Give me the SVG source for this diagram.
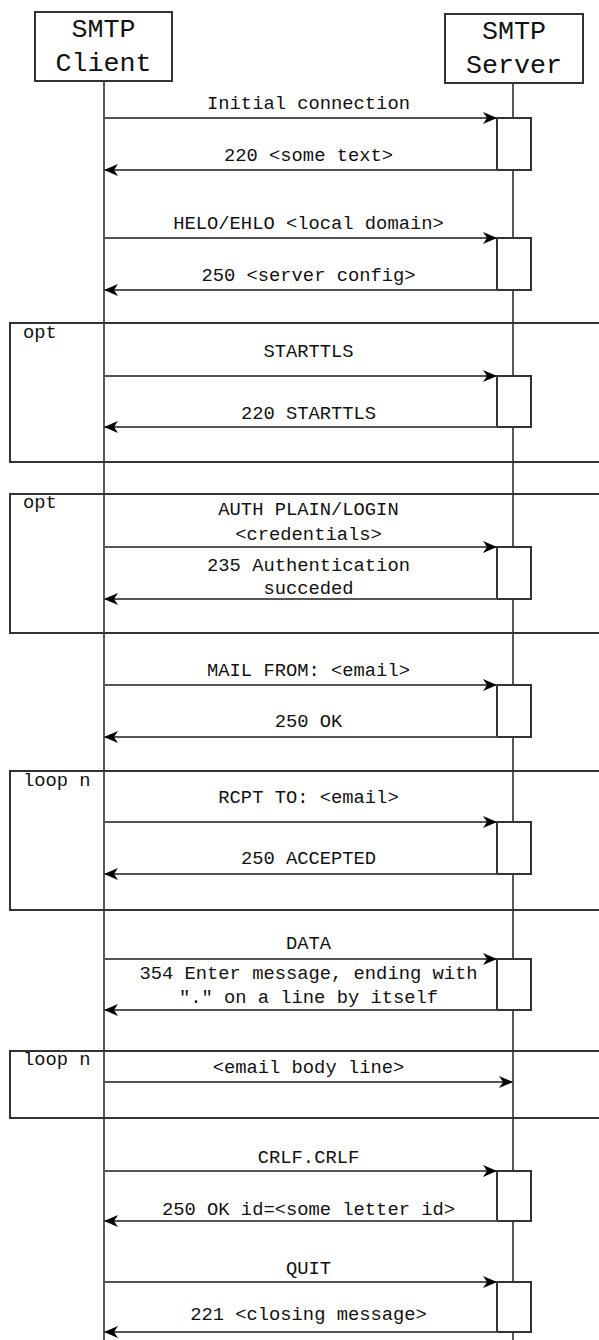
<svg xmlns="http://www.w3.org/2000/svg" width="599" height="1340" viewBox="0 0 599 1340">
<style>
.box{fill:#fff;stroke:#333;stroke-width:2}
.frame{fill:none;stroke:#333;stroke-width:2}
.life{stroke:#222;stroke-width:1.5;fill:none}
.msg{stroke:#555;stroke-width:2;fill:none;marker-end:url(#arr)}
.t{font-family:"Liberation Mono","Courier New",monospace;font-size:18.8px;fill:#111;text-anchor:middle}
.h{font-family:"Liberation Mono","Courier New",monospace;font-size:26.7px;fill:#111;text-anchor:middle}
.lbl{font-family:"Liberation Mono","Courier New",monospace;font-size:18.8px;fill:#111}
</style>
<defs>
<marker id="arr" markerUnits="userSpaceOnUse" viewBox="0 0 14 12" markerWidth="14" markerHeight="12" refX="14" refY="6" orient="auto">
<path d="M0,0 L14,6 L0,12 L4,6 Z" fill="#000"/>
</marker>
</defs>
<rect width="599" height="1340" fill="#fff"/>

<g id="lifelines">
<line class="life" x1="104" y1="81" x2="104" y2="1340"/>
<line class="life" x1="513" y1="83" x2="513" y2="1340"/>
</g>

<g id="frames">
<g id="opt-starttls"><rect class="frame" x="10" y="323" width="600" height="139"/><text class="lbl" x="23" y="338">opt</text></g>
<g id="opt-auth"><rect class="frame" x="10" y="494" width="600" height="139"/><text class="lbl" x="23" y="508">opt</text></g>
<g id="loop-rcpt"><rect class="frame" x="10" y="771" width="600" height="139"/><text class="lbl" x="23" y="786">loop n</text></g>
<g id="loop-body"><rect class="frame" x="10" y="1051" width="600" height="67"/><text class="lbl" x="23" y="1065">loop n</text></g>
</g>

<g id="client"><rect class="box" x="35" y="12" width="137" height="69"/><text class="h" x="103.5" y="37">SMTP</text><text class="h" x="103.5" y="71">Client</text></g>
<g id="server"><rect class="box" x="445" y="14" width="138" height="69"/><text class="h" x="514" y="39">SMTP</text><text class="h" x="514" y="73">Server</text></g>

<g id="activations">
<rect id="act1" class="box" x="497" y="118" width="34" height="52"/>
<rect id="act2" class="box" x="497" y="238" width="34" height="52"/>
<rect id="act3" class="box" x="497" y="376" width="34" height="51"/>
<rect id="act4" class="box" x="497" y="547" width="34" height="52"/>
<rect id="act5" class="box" x="497" y="685" width="34" height="52"/>
<rect id="act6" class="box" x="497" y="822" width="34" height="52"/>
<rect id="act7" class="box" x="497" y="959" width="34" height="51"/>
<rect id="act8" class="box" x="497" y="1171" width="34" height="50"/>
<rect id="act9" class="box" x="497" y="1282" width="34" height="50"/>
</g>

<g id="connectors">
<line class="msg" x1="104" y1="118" x2="497" y2="118"/>
<line class="msg" x1="497" y1="170" x2="104" y2="170"/>
<line class="msg" x1="104" y1="238" x2="497" y2="238"/>
<line class="msg" x1="497" y1="290" x2="104" y2="290"/>
<line class="msg" x1="104" y1="376" x2="497" y2="376"/>
<line class="msg" x1="497" y1="427" x2="104" y2="427"/>
<line class="msg" x1="104" y1="547" x2="497" y2="547"/>
<line class="msg" x1="497" y1="599" x2="104" y2="599"/>
<line class="msg" x1="104" y1="685" x2="497" y2="685"/>
<line class="msg" x1="497" y1="737" x2="104" y2="737"/>
<line class="msg" x1="104" y1="822" x2="497" y2="822"/>
<line class="msg" x1="497" y1="874" x2="104" y2="874"/>
<line class="msg" x1="104" y1="959" x2="497" y2="959"/>
<line class="msg" x1="497" y1="1010" x2="104" y2="1010"/>
<line class="msg" x1="104" y1="1082" x2="513" y2="1082"/>
<line class="msg" x1="104" y1="1171" x2="497" y2="1171"/>
<line class="msg" x1="497" y1="1221" x2="104" y2="1221"/>
<line class="msg" x1="104" y1="1282" x2="497" y2="1282"/>
<line class="msg" x1="497" y1="1332" x2="104" y2="1332"/>
</g>

<g id="labels">
<text class="t" x="308.5" y="109">Initial connection</text>
<text class="t" x="308.5" y="161">220 &lt;some text&gt;</text>
<text class="t" x="308.5" y="229">HELO/EHLO &lt;local domain&gt;</text>
<text class="t" x="308.5" y="281">250 &lt;server config&gt;</text>
<text class="t" x="308.5" y="357">STARTTLS</text>
<text class="t" x="308.5" y="419">220 STARTTLS</text>
<text class="t" x="308.5" y="515">AUTH PLAIN/LOGIN</text>
<text class="t" x="308.5" y="540">&lt;credentials&gt;</text>
<text class="t" x="308.5" y="571">235 Authentication</text>
<text class="t" x="308.5" y="594">succeded</text>
<text class="t" x="308.5" y="676">MAIL FROM: &lt;email&gt;</text>
<text class="t" x="308.5" y="727">250 OK</text>
<text class="t" x="308.5" y="803">RCPT TO: &lt;email&gt;</text>
<text class="t" x="308.5" y="864">250 ACCEPTED</text>
<text class="t" x="308.5" y="949">DATA</text>
<text class="t" x="308.5" y="979">354 Enter message, ending with</text>
<text class="t" x="308.5" y="1003">"." on a line by itself</text>
<text class="t" x="308.5" y="1073">&lt;email body line&gt;</text>
<text class="t" x="308.5" y="1163">CRLF.CRLF</text>
<text class="t" x="308.5" y="1215">250 OK id=&lt;some letter id&gt;</text>
<text class="t" x="308.5" y="1274">QUIT</text>
<text class="t" x="308.5" y="1320">221 &lt;closing message&gt;</text>
</g>
</svg>
